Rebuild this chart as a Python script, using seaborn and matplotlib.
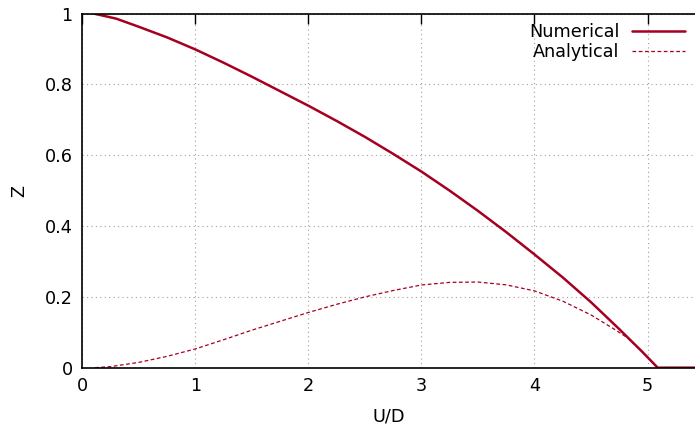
import numpy as np
import pandas as pd
import matplotlib
matplotlib.use('Agg')
import matplotlib.pyplot as plt
import seaborn as sns

# curva numérica
x_num = [0.106, 0.3, 0.5, 0.75, 1.0, 1.25, 1.5, 1.75, 2.0, 2.25, 2.5, 2.75, 3.0,
         3.25, 3.5, 3.75, 4.0, 4.25, 4.5, 4.75, 4.95, 5.09, 5.42]
z_num = [1.0, 0.986, 0.963, 0.933, 0.899, 0.8615, 0.822, 0.781, 0.740, 0.697, 0.652,
         0.604, 0.554, 0.50, 0.443, 0.383, 0.32, 0.255, 0.185, 0.109, 0.046, 0.0, 0.0]

# curva analítica
x_ana = [0.113, 0.25, 0.5, 0.75, 1.0, 1.25, 1.5, 1.75, 2.0, 2.25, 2.5, 2.75, 3.0,
         3.25, 3.5, 3.75, 4.0, 4.25, 4.5, 4.7, 4.82, 4.95, 5.09, 5.42]
z_ana = [0.0, 0.003, 0.015, 0.032, 0.053, 0.079, 0.106, 0.131, 0.156, 0.179, 0.2,
         0.218, 0.2336, 0.241, 0.242, 0.234, 0.217, 0.188, 0.149, 0.11, 0.085, 0.046,
         0.0, 0.0]

df_num = pd.DataFrame({'U/D': x_num, 'Z': z_num})
df_ana = pd.DataFrame({'U/D': x_ana, 'Z': z_ana})

sns.set_style('white')
plt.rcParams['font.family'] = ['DejaVu Sans']
plt.rcParams['text.color'] = 'black'
plt.rcParams['axes.labelcolor'] = 'black'

cor = '#a50021'
fs = 12.7
fig = plt.figure(figsize=(6.95, 4.3), dpi=100)
ax = fig.add_axes([0.1184, 0.1449, 0.8816, 0.8233])

sns.lineplot(data=df_num, x='U/D', y='Z', ax=ax, color=cor, linewidth=1.8, label='Numerical')
sns.lineplot(data=df_ana, x='U/D', y='Z', ax=ax, color=cor, linewidth=0.9,
             linestyle=(0, (3, 2)), label='Analytical')

ax.set_xlim(0, 5.42)
ax.set_ylim(0, 1)
ax.set_xticks([0, 1, 2, 3, 4, 5])
ax.set_yticks([0, 0.2, 0.4, 0.6, 0.8, 1])
ax.set_yticklabels(['0', '0.2', '0.4', '0.6', '0.8', '1'])
ax.tick_params(direction='in', length=7, width=1, labelsize=fs, top=True, right=False,
               colors='black')
ax.tick_params(axis='x', pad=7)
ax.tick_params(axis='y', pad=7)
ax.grid(True, linestyle=(0, (1, 3)), color='#a0a0a0', linewidth=0.8)
for s in ['left', 'bottom', 'top']:
    ax.spines[s].set_color('black')
    ax.spines[s].set_linewidth(1.2)
ax.spines['right'].set_visible(False)

ax.set_xlabel('U/D', fontsize=fs, labelpad=9)
ax.set_ylabel('Z', fontsize=fs, labelpad=12)

leg = ax.legend(loc='upper right', frameon=False, markerfirst=False, fontsize=fs,
                handlelength=3.0, borderaxespad=0.25, borderpad=0.3,
                labelspacing=0.1, handletextpad=0.75)
for t in leg.get_texts():
    t.set_color('black')

plt.savefig('out.png', dpi=100)
